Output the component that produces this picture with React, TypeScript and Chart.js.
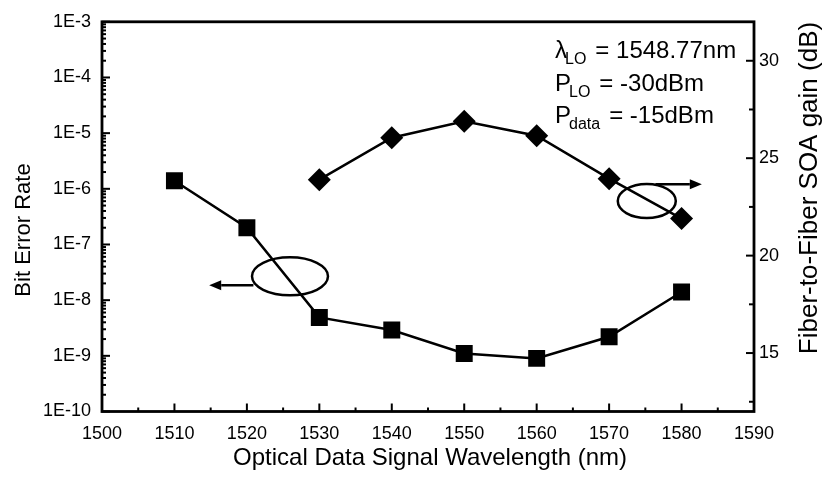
import { useEffect, useRef } from 'react';
import { Chart, registerables } from 'chart.js';

Chart.register(...registerables);

// ---- data ----
const berWavelengths = [1510, 1520, 1530, 1540, 1550, 1560, 1570, 1580];
const berValues = [1.4e-6, 2.0e-7, 4.9e-9, 2.9e-9, 1.1e-9, 9.0e-10, 2.2e-9, 1.4e-8];
const gainWavelengths = [1530, 1540, 1550, 1560, 1570, 1580];
const gainValues = [23.9, 26.05, 26.9, 26.15, 23.95, 21.9];

const xTickValues = [1500, 1510, 1520, 1530, 1540, 1550, 1560, 1570, 1580, 1590];
const berTickValues = [1e-10, 1e-9, 1e-8, 1e-7, 1e-6, 1e-5, 1e-4, 1e-3];
const berTickLabels = ['1E-10', '1E-9', '1E-8', '1E-7', '1E-6', '1E-5', '1E-4', '1E-3'];
const gainTickValues = [15, 20, 25, 30];

const xTitle = 'Optical Data Signal Wavelength (nm)';
const yTitle = 'Bit Error Rate';
const y2Title = 'Fiber-to-Fiber SOA gain (dB)';

const noteMain = ['λ', 'P', 'P'];
const noteSub = ['LO', 'LO', 'data'];
const noteRest = ['= 1548.77nm', '= -30dBm', '= -15dBm'];

// annotation ellipses (data units) with arrows
const berEllipse = { x: 1525.95, y: 2.68e-8, arrowFrom: 1520.9, arrowTo: 1514.8, arrowY: 1.85e-8 };
const gainEllipse = { x: 1575.2, y: 22.8, arrowFrom: 1576.4, arrowTo: 1582.8, arrowY: 23.66 };

const FONT = "Arial, 'Liberation Sans', sans-serif";

function drawArrow(ctx: CanvasRenderingContext2D, x1: number, x2: number, y: number) {
  const dir = Math.sign(x2 - x1);
  const head = 12;
  ctx.beginPath();
  ctx.moveTo(x1, y);
  ctx.lineTo(x2 - dir * head, y);
  ctx.stroke();
  ctx.beginPath();
  ctx.moveTo(x2, y);
  ctx.lineTo(x2 - dir * head, y - 5);
  ctx.lineTo(x2 - dir * head, y + 5);
  ctx.closePath();
  ctx.fill();
}

const decorPlugin = {
  id: 'decor',
  afterDraw(chart: any) {
    const { ctx, chartArea: a, scales } = chart;
    const sx = scales.x, sy = scales.y, sy2 = scales.y2;
    ctx.save();
    ctx.strokeStyle = '#000';
    ctx.fillStyle = '#000';
    ctx.lineCap = 'butt';

    // frame
    ctx.lineWidth = 2.8;
    ctx.strokeRect(a.left, a.top, a.right - a.left, a.bottom - a.top);

    const seg = (x1: number, y1: number, x2: number, y2: number) => {
      ctx.beginPath();
      ctx.moveTo(x1, y1);
      ctx.lineTo(x2, y2);
      ctx.stroke();
    };

    ctx.lineWidth = 2;
    // bottom ticks (inward)
    for (let v = sx.min; v <= sx.max + 0.01; v += 5) {
      const px = sx.getPixelForValue(v);
      const len = Math.round(v) % 10 === 0 ? 8 : 4;
      seg(px, a.bottom, px, a.bottom - len);
    }
    // left log ticks
    const dMin = Math.round(Math.log10(sy.min));
    const dMax = Math.round(Math.log10(sy.max));
    for (let d = dMin; d <= dMax; d++) {
      for (let m = 1; m <= 9; m++) {
        const v = m * Math.pow(10, d);
        if (v > sy.max * 1.0001) break;
        const py = sy.getPixelForValue(v);
        seg(a.left, py, a.left + (m === 1 ? 8 : 4), py);
      }
    }
    // right ticks
    for (let v = 12.5; v <= sy2.max + 0.01; v += 2.5) {
      const py = sy2.getPixelForValue(v);
      const len = v % 5 === 0 ? 8 : 5;
      seg(a.right, py, a.right - len, py);
    }

    // ellipses + arrows
    ctx.lineWidth = 2.5;
    {
      const cx = sx.getPixelForValue(berEllipse.x);
      const cy = sy.getPixelForValue(berEllipse.y);
      ctx.beginPath();
      ctx.ellipse(cx, cy, 38, 19, 0, 0, Math.PI * 2);
      ctx.stroke();
      drawArrow(ctx, sx.getPixelForValue(berEllipse.arrowFrom), sx.getPixelForValue(berEllipse.arrowTo), sy.getPixelForValue(berEllipse.arrowY));
    }
    {
      const cx = sx.getPixelForValue(gainEllipse.x);
      const cy = sy2.getPixelForValue(gainEllipse.y);
      ctx.beginPath();
      ctx.ellipse(cx, cy, 29, 17, 0, 0, Math.PI * 2);
      ctx.stroke();
      drawArrow(ctx, sx.getPixelForValue(gainEllipse.arrowFrom), sx.getPixelForValue(gainEllipse.arrowTo), sy2.getPixelForValue(gainEllipse.arrowY));
    }

    // parameter notes
    const baselines = [58, 91, 123];
    ctx.textBaseline = 'alphabetic';
    ctx.textAlign = 'left';
    for (let i = 0; i < noteMain.length; i++) {
      let x = 555;
      const yb = baselines[i];
      ctx.font = `24px ${FONT}`;
      ctx.fillText(noteMain[i], x, yb);
      x += ctx.measureText(noteMain[i]).width - 2;
      ctx.font = `16px ${FONT}`;
      ctx.fillText(noteSub[i], x, yb + 6);
      x += ctx.measureText(noteSub[i]).width + 9;
      ctx.font = `24px ${FONT}`;
      ctx.fillText(noteRest[i], x, yb);
    }

    // axis titles
    ctx.textAlign = 'center';
    ctx.textBaseline = 'alphabetic';
    ctx.font = `24px ${FONT}`;
    ctx.fillText(xTitle, 430, 465);

    ctx.textBaseline = 'middle';
    ctx.save();
    ctx.translate(24, 230);
    ctx.rotate(-Math.PI / 2);
    ctx.font = `22px ${FONT}`;
    ctx.fillText(yTitle, 0, 0);
    ctx.restore();

    ctx.save();
    ctx.translate(810, 188);
    ctx.rotate(-Math.PI / 2);
    ctx.font = `26px ${FONT}`;
    ctx.fillText(y2Title, 0, 0);
    ctx.restore();

    ctx.restore();
  },
};

export default function App() {
  const ref = useRef<HTMLCanvasElement>(null);
  useEffect(() => {
    if (!ref.current) return;
    const tickFont = { family: FONT, size: 18 };
    const chart = new Chart(ref.current, {
      type: 'line',
      data: {
        datasets: [
          {
            label: 'BER',
            data: berWavelengths.map((w, i) => ({ x: w, y: berValues[i] })),
            yAxisID: 'y',
            borderColor: '#000',
            backgroundColor: '#000',
            borderWidth: 2.5,
            pointStyle: 'rect',
            pointRadius: 12,
            pointBorderWidth: 0,
            pointBackgroundColor: '#000',
          },
          {
            label: 'Gain',
            data: gainWavelengths.map((w, i) => ({ x: w, y: gainValues[i] })),
            yAxisID: 'y2',
            borderColor: '#000',
            backgroundColor: '#000',
            borderWidth: 2.5,
            pointStyle: 'rectRot',
            pointRadius: 11.5,
            pointBorderWidth: 0,
            pointBackgroundColor: '#000',
          },
        ],
      },
      options: {
        responsive: false,
        animation: false,
        devicePixelRatio: 1,
        layout: { padding: { top: 18, left: 0, right: 0, bottom: 0 } },
        plugins: { legend: { display: false }, tooltip: { enabled: false } },
        scales: {
          x: {
            type: 'linear',
            min: 1500,
            max: 1590,
            afterBuildTicks: (s: any) => {
              s.ticks = xTickValues.map((v) => ({ value: v }));
            },
            afterFit: (s: any) => {
              s.height = 68.5;
            },
            grid: { display: false, drawTicks: false },
            border: { display: false },
            ticks: {
              font: tickFont,
              color: '#000',
              padding: 12,
              maxRotation: 0,
              autoSkip: false,
              callback: (v: any) => String(v),
            },
          },
          y: {
            type: 'logarithmic',
            position: 'left',
            min: 1e-10,
            max: 1e-3,
            afterBuildTicks: (s: any) => {
              s.ticks = berTickValues.map((v) => ({ value: v }));
            },
            afterFit: (s: any) => {
              s.width = 102;
            },
            grid: { display: false, drawTicks: false },
            border: { display: false },
            ticks: {
              font: tickFont,
              color: '#000',
              padding: 11,
              autoSkip: false,
              callback: (v: any) => berTickLabels[Math.round(Math.log10(Number(v))) + 10] ?? '',
            },
          },
          y2: {
            type: 'linear',
            position: 'right',
            min: 12,
            max: 32,
            afterBuildTicks: (s: any) => {
              s.ticks = gainTickValues.map((v) => ({ value: v }));
            },
            afterFit: (s: any) => {
              s.width = 70;
            },
            grid: { display: false, drawTicks: false },
            border: { display: false },
            ticks: {
              font: tickFont,
              color: '#000',
              padding: 5,
              autoSkip: false,
              callback: (v: any) => String(v),
            },
          },
        },
      },
      plugins: [decorPlugin],
    });
    return () => chart.destroy();
  }, []);
  return (
    <div style={{ position: 'absolute', left: 0, top: 0, width: 824, height: 480, background: '#fff' }}>
      <canvas ref={ref} width={824} height={480} style={{ display: 'block' }} />
    </div>
  );
}
